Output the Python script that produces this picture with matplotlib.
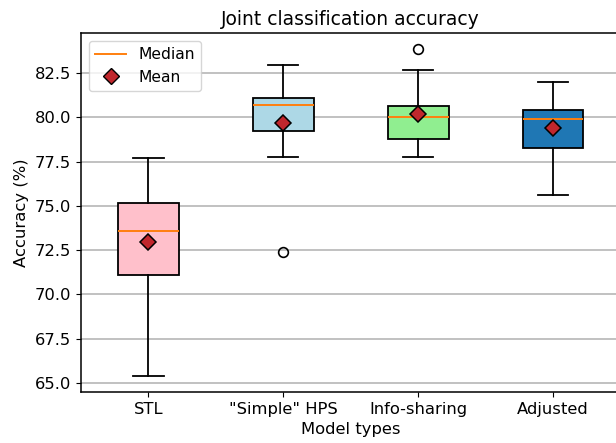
import matplotlib
matplotlib.use("Agg")
import matplotlib.pyplot as plt
from matplotlib.lines import Line2D

categories = ['STL', '"Simple" HPS', 'Info-sharing', 'Adjusted']
whislo = [65.41, 77.74, 77.74, 75.64]
q1 = [71.08, 79.20, 78.80, 78.27]
med = [73.60, 80.70, 80.03, 79.90]
mean = [72.95, 79.68, 80.17, 79.39]
q3 = [75.17, 81.08, 80.63, 80.43]
whishi = [77.69, 82.93, 82.67, 82.02]
fliers = [[], [72.42], [83.84], []]
box_colors = ['pink', 'lightblue', 'lightgreen', '#1f77b4']

plt.rcParams['font.size'] = 11.8
plt.rcParams['axes.linewidth'] = 1.1

stats = []
for i, c in enumerate(categories):
    stats.append(dict(label=c, whislo=whislo[i], q1=q1[i], med=med[i], mean=mean[i],
                      q3=q3[i], whishi=whishi[i], fliers=fliers[i]))

fig = plt.figure(figsize=(6.16, 4.43), dpi=100)
ax = fig.add_axes([0.1315, 0.1151, 0.8758, 0.8104])
lw = 1.3
bp = ax.bxp(stats, patch_artist=True, widths=0.45, showmeans=True,
            meanprops=dict(marker='D', markerfacecolor='#c0272d', markeredgecolor='black',
                           markersize=8.5, markeredgewidth=1.1),
            medianprops=dict(color='#ff7f0e', linewidth=1.4),
            boxprops=dict(linewidth=lw), whiskerprops=dict(linewidth=lw),
            capprops=dict(linewidth=lw),
            flierprops=dict(markersize=7, markeredgewidth=1.2))
for patch, col in zip(bp['boxes'], box_colors):
    patch.set_facecolor(col)
    patch.set_edgecolor('black')
ax.yaxis.grid(True, color='#b0b0b0', linewidth=1.1)
ax.set_axisbelow(True)
ax.set_title('Joint classification accuracy', fontsize=13.5)
ax.set_xlabel('Model types')
ax.set_ylabel('Accuracy (%)')
handles = [Line2D([], [], color='#ff7f0e', label='Median', linewidth=1.4),
           Line2D([], [], marker='D', linestyle='none', markerfacecolor='#c0272d',
                  markeredgecolor='black', markersize=8.5, label='Mean')]
ax.legend(handles=handles, loc='upper left', fontsize=11.2)
fig.savefig('out.png', dpi=100)
